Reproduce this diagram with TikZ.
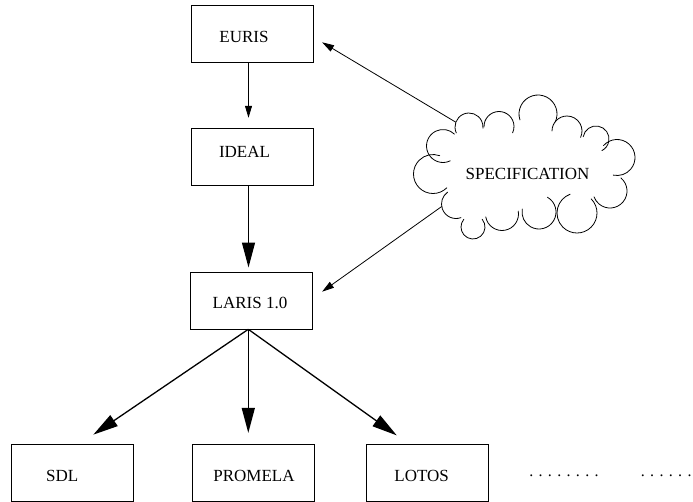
\documentclass[tikz,border=0pt]{standalone}
\usepackage{fontspec}
\setmainfont{Liberation Serif}
\usetikzlibrary{arrows.meta,calc}

\tikzset{
  box/.style={draw, line width=0.8pt, minimum width=122pt, minimum height=57pt, inner sep=0pt},
  txt/.style={font=\fontsize{17}{20}\selectfont, inner sep=0pt},
  dotrow/.style={font=\fontsize{16}{19}\selectfont, inner sep=0pt, anchor=base},
  thinarrow/.style={line width=0.8pt, -{Triangle[length=12pt,width=7pt]}},
  thickarrow/.style={line width=1.3pt, -{Triangle[length=25pt,width=13pt]}},
  cloudline/.style={line width=0.8pt, line cap=round}
}

\begin{document}
\begin{tikzpicture}[x=1pt,y=-1pt]
\clip (0,0) rectangle (693,501);
\fill[white] (0,0) rectangle (693,501);

% boxes
\node[box] (euris)   at (252,33.7)   {};
\node[box] (ideal)   at (252,156.7)  {};
\node[box] (laris)   at (251.5,300.4) {};
\node[box] (sdl)     at (72,472.8)   {};
\node[box] (promela) at (253,472.8)  {};
\node[box] (lotos)   at (427,472.8)  {};

% box labels
\node[txt] (teuris)   at (244,37)     {EURIS};
\node[txt] (tideal)   at (244.5,151.7) {IDEAL};
\node[txt] (tlaris)   at (250,302.5)  {LARIS 1.0};
\node[txt] (tsdl)     at (62.3,476)   {SDL};
\node[txt] (tpromela) at (254,476)    {PROMELA};
\node[txt] (tlotos)   at (421.7,476)  {LOTOS};

% trailing dots
\node[dotrow] (dotsA) at (564,476) {. . . . . . . .};
\node[dotrow] (dotsB) at (666.2,476) {. . . . . .};

% cloud: one circular puff per entry (centre x, centre y, radius, from, to)
\foreach \lx/\ly/\lr/\la/\lb in {
    469/127/14/205/-5,
    499/126.5/15/182/-25,
    538/114/19/198/-25,
    567/131/15/180/-25,
    596/139/13/170/-63,
    617/157.5/18/139/-102,
    610/191/17/50/-160,
    577/213/20/45/-250,
    539/212/17/60/-190,
    502/214/16.5/10/-170,
    473/227/12/40/-220,
    456/204/14.5/-70/-235,
    433/174/19.5/-45/-290,
    443/146/16.5/-64/-314}
  \draw[cloudline] (\lx,\ly) ++(\la:\lr pt) arc[start angle=\la, end angle=\lb, radius=\lr pt];
\node[txt] (spec) at (527.5,173.7) {SPECIFICATION};
\coordinate (cA) at (455.8,122.2);
\coordinate (cB) at (441.7,206.5);

% connectors
\draw[thinarrow, shorten >=10pt] ([xshift=-3.5pt]euris.south) -- ([xshift=-3.5pt]ideal.north);
\draw[thickarrow, shorten >=4pt] ([xshift=-3.5pt]ideal.south) -- ([xshift=-3pt]laris.north);
\draw[thickarrow, shorten >=16.5pt] ([xshift=-3.2pt]laris.south) -- ([xshift=7.7pt]sdl.north);
\draw[thickarrow, shorten >=11pt] ([xshift=-3.2pt]laris.south) -- ([xshift=-4.7pt]promela.north);
\draw[thickarrow, shorten >=14.7pt] ([xshift=-3.2pt]laris.south) -- ([xshift=-18.3pt]lotos.north);
\draw[thinarrow] (cA) -- ([xshift=8.7pt,yshift=-8.6pt]euris.east);
\draw[thinarrow] (cB) -- ([xshift=9.2pt,yshift=8.7pt]laris.east);
\end{tikzpicture}
\end{document}
